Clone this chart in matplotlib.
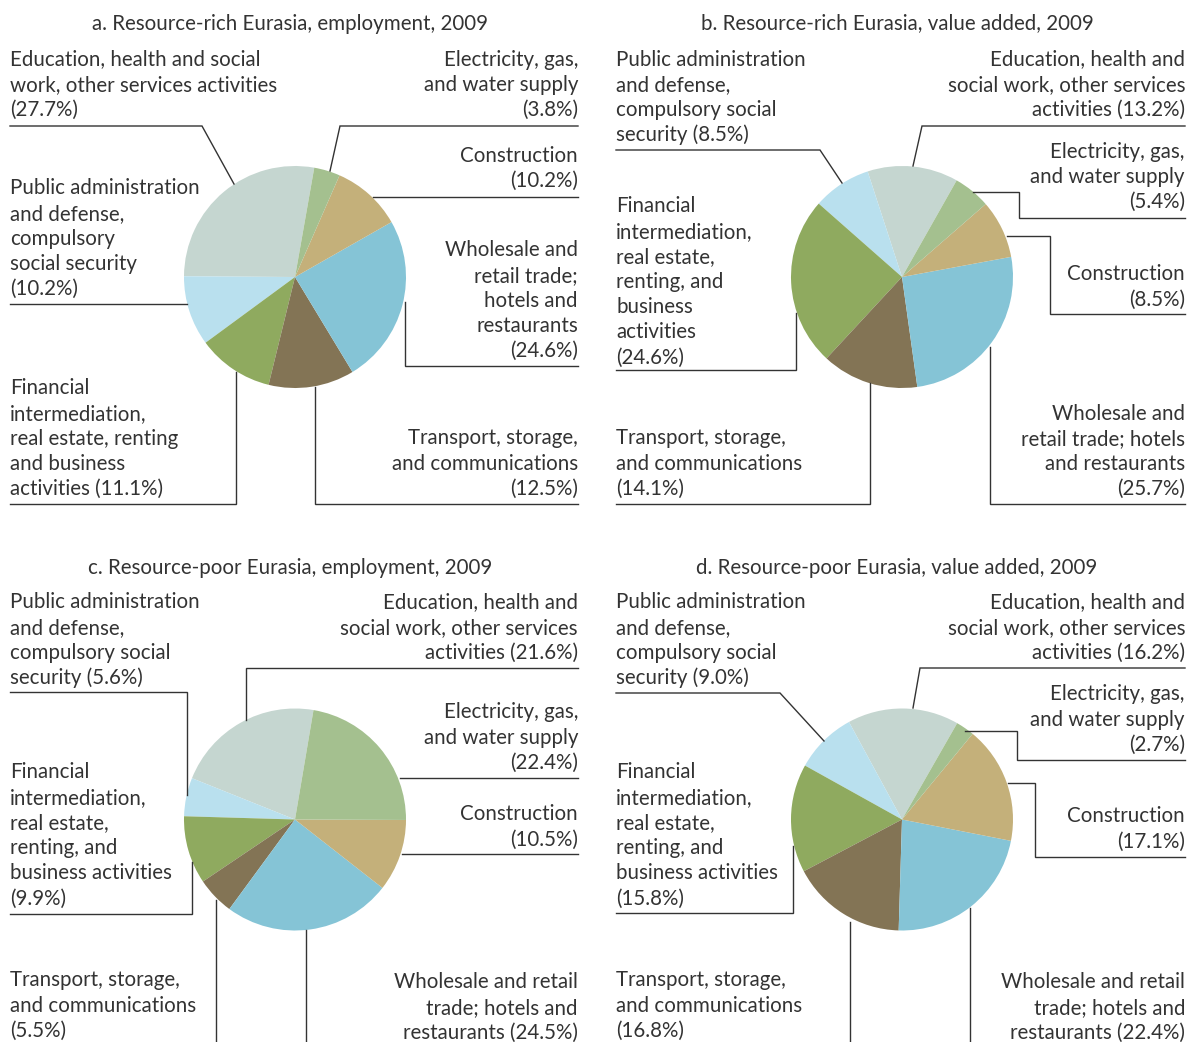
import matplotlib
matplotlib.use("Agg")
import matplotlib.pyplot as plt

# figure size in pixels
W = 1188
H = 1042

# sector order, drawn counter-clockwise from the start angle
sectors = ["Education", "Public", "Financial", "Transport", "Wholesale", "Construction", "Electricity"]
colors = ["#c5d6d0", "#b9e0ee", "#8faa5f", "#837455", "#85c4d6", "#c4b07a", "#a4c08f"]

# shares in percent
emp_rich = [27.7, 10.2, 11.1, 12.5, 24.6, 10.2, 3.8]
va_rich = [13.2, 8.5, 24.6, 14.1, 25.7, 8.5, 5.4]
emp_poor = [21.6, 5.6, 9.9, 5.5, 24.5, 10.5, 22.4]
va_poor = [16.2, 9.0, 15.8, 16.8, 22.4, 17.1, 2.7]

titles = ["a. Resource-rich Eurasia, employment, 2009",
          "b. Resource-rich Eurasia, value added, 2009",
          "c. Resource-poor Eurasia, employment, 2009",
          "d. Resource-poor Eurasia, value added, 2009"]

plt.rcParams['font.family'] = ['Lato', 'DejaVu Sans']
txt_col = "#333333"
line_col = "#333333"
fs = 14.8
step = 25.2  # line spacing in px
dy = 1.5     # small nudge for text baseline

# label layout per panel: sector -> (text, x, y of first line, ha, leader points)
labels_a = {
    "Education": ("Education, health and social\nwork, other services activities\n({:.1f}%)", 10, 58, "left",
                  [(10, 126), (202, 126), (234, 184)]),
    "Electricity": ("Electricity, gas,\nand water supply\n({:.1f}%)", 578, 58, "right",
                    [(578, 126), (340, 126), (330, 171)]),
    "Construction": ("Construction\n({:.1f}%)", 578, 154, "right",
                     [(578, 197), (373, 197)]),
    "Public": ("Public administration\nand defense,\ncompulsory\nsocial security\n({:.1f}%)", 10, 187, "left",
               [(10, 304), (187, 304)]),
    "Wholesale": ("Wholesale and\nretail trade;\nhotels and\nrestaurants\n({:.1f}%)", 578, 249, "right",
                  [(578, 366), (405, 366), (405, 302)]),
    "Financial": ("Financial\nintermediation,\nreal estate, renting\nand business\nactivities ({:.1f}%)", 10, 387, "left",
                  [(10, 504), (236, 504), (236, 372)]),
    "Transport": ("Transport, storage,\nand communications\n({:.1f}%)", 578, 437, "right",
                  [(578, 504), (315, 504), (315, 387)]),
}

labels_b = {
    "Public": ("Public administration\nand defense,\ncompulsory social\nsecurity ({:.1f}%)", 616, 58, "left",
               [(616, 150), (820, 150), (842, 183)]),
    "Education": ("Education, health and\nsocial work, other services\nactivities ({:.1f}%)", 1185, 58, "right",
                  [(1185, 126), (922, 126), (913, 166)]),
    "Electricity": ("Electricity, gas,\nand water supply\n({:.1f}%)", 1185, 150, "right",
                    [(1185, 218), (1019, 218), (1019, 192), (973, 192)]),
    "Construction": ("Construction\n({:.1f}%)", 1185, 273, "right",
                     [(1185, 314), (1050, 314), (1050, 236), (1007, 236)]),
    "Financial": ("Financial\nintermediation,\nreal estate,\nrenting, and\nbusiness\nactivities\n({:.1f}%)", 616, 205, "left",
                  [(616, 370), (796, 370), (796, 313)]),
    "Transport": ("Transport, storage,\nand communications\n({:.1f}%)", 616, 437, "left",
                  [(616, 504), (870, 504), (870, 383)]),
    "Wholesale": ("Wholesale and\nretail trade; hotels\nand restaurants\n({:.1f}%)", 1185, 412, "right",
                  [(1185, 504), (990, 504), (990, 347)]),
}

labels_c = {
    "Public": ("Public administration\nand defense,\ncompulsory social\nsecurity ({:.1f}%)", 10, 601, "left",
               [(10, 692), (187, 692), (187, 795)]),
    "Education": ("Education, health and\nsocial work, other services\nactivities ({:.1f}%)", 578, 601, "right",
                  [(578, 668), (246, 668), (246, 720)]),
    "Electricity": ("Electricity, gas,\nand water supply\n({:.1f}%)", 578, 711, "right",
                    [(578, 778), (400, 778)]),
    "Construction": ("Construction\n({:.1f}%)", 578, 813, "right",
                     [(578, 854), (402, 854)]),
    "Financial": ("Financial\nintermediation,\nreal estate,\nrenting, and\nbusiness activities\n({:.1f}%)", 10, 771, "left",
                  [(10, 914), (192, 914), (192, 862)]),
    "Transport": ("Transport, storage,\nand communications\n({:.1f}%)", 10, 979, "left",
                  [(216, 900), (216, 1060)]),
    "Wholesale": ("Wholesale and retail\ntrade; hotels and\nrestaurants ({:.1f}%)", 578, 981, "right",
                  [(306, 930), (306, 1060)]),
}

labels_d = {
    "Public": ("Public administration\nand defense,\ncompulsory social\nsecurity ({:.1f}%)", 616, 601, "left",
               [(616, 693), (780, 693), (824, 741)]),
    "Education": ("Education, health and\nsocial work, other services\nactivities ({:.1f}%)", 1185, 601, "right",
                  [(1185, 668), (920, 668), (913, 708)]),
    "Electricity": ("Electricity, gas,\nand water supply\n({:.1f}%)", 1185, 693, "right",
                    [(1185, 760), (1017, 760), (1017, 731), (965, 731)]),
    "Construction": ("Construction\n({:.1f}%)", 1185, 815, "right",
                     [(1185, 857), (1035, 857), (1035, 783), (1008, 783)]),
    "Financial": ("Financial\nintermediation,\nreal estate,\nrenting, and\nbusiness activities\n({:.1f}%)", 616, 771, "left",
                  [(616, 913), (793, 913), (793, 846)]),
    "Transport": ("Transport, storage,\nand communications\n({:.1f}%)", 616, 979, "left",
                  [(850, 922), (850, 1060)]),
    "Wholesale": ("Wholesale and retail\ntrade; hotels and\nrestaurants ({:.1f}%)", 1185, 981, "right",
                  [(970, 908), (970, 1060)]),
}

# panel: values, pie centre (px), start angle, title position, labels
panels = [
    (emp_rich, (295, 277), 80, (290, 22), labels_a),
    (va_rich, (902, 277), 60.5, (897, 22), labels_b),
    (emp_poor, (295, 819.5), 80.4, (290, 566), labels_c),
    (va_poor, (902, 819.5), 60.2, (897, 566), labels_d),
]
r = 111

fig = plt.figure(figsize=(W / 100, H / 100), dpi=100)

# overlay axes in pixel coordinates for text and leader lines
ov = fig.add_axes([0, 0, 1, 1])
ov.set_xlim(0, W)
ov.set_ylim(H, 0)
ov.axis("off")

for i in range(len(panels)):
    vals, (cx, cy), start, (tx, ty), labels = panels[i]
    ax = fig.add_axes([(cx - r) / W, (H - cy - r) / H, 2 * r / W, 2 * r / H])
    ax.pie(vals, colors=colors, startangle=start, counterclock=True,
           wedgeprops=dict(linewidth=0))
    ax.set_xlim(-1, 1)
    ax.set_ylim(-1, 1)
    ax.set_zorder(0)

    ov.text(tx, ty + dy, titles[i], ha="center", va="center", fontsize=fs, color=txt_col)

    for j in range(len(sectors)):
        s = sectors[j]
        text, x, y, ha, pts = labels[s]
        lines = text.format(vals[j]).split("\n")
        for k in range(len(lines)):
            ov.text(x, y + dy + k * step, lines[k], ha=ha, va="center", fontsize=fs, color=txt_col)
        xs = [p[0] for p in pts]
        ys = [p[1] for p in pts]
        ov.plot(xs, ys, color=line_col, lw=1.0, solid_joinstyle="miter")

ov.set_zorder(5)
fig.savefig("out.png", dpi=100)
